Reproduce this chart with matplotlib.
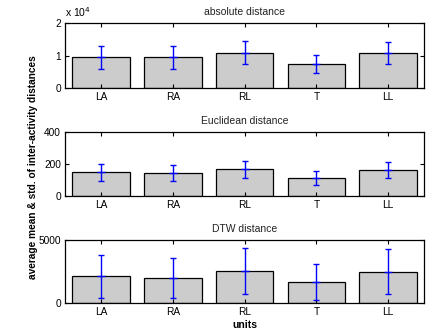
import numpy as np
import matplotlib.pyplot as plt

plt.rcParams['font.family'] = ['Liberation Sans', 'DejaVu Sans']

units = ['LA', 'RA', 'RL', 'T', 'LL']

# absolute distance
abs_mean = [9500, 9450, 10900, 7400, 10750]
abs_std = [3600, 3550, 3500, 2800, 3450]
# Euclidean distance
euc_mean = [148, 143, 167, 113, 163]
euc_std = [52, 48, 52, 44, 51]
# DTW distance
dtw_mean = [2100, 1980, 2540, 1680, 2480]
dtw_std = [1680, 1590, 1800, 1420, 1770]

panels = [
    ('absolute distance', np.array(abs_mean) / 1e4, np.array(abs_std) / 1e4, 2, [0, 1, 2]),
    ('Euclidean distance', np.array(euc_mean), np.array(euc_std), 400, [0, 200, 400]),
    ('DTW distance', np.array(dtw_mean), np.array(dtw_std), 5000, [0, 5000]),
]
boxes = [[0.151, 0.734, 0.833, 0.196],
         [0.151, 0.408, 0.833, 0.193],
         [0.151, 0.085, 0.833, 0.190]]

fig = plt.figure(figsize=(4.31, 3.31), dpi=100)
x = np.arange(1, 6)
for (title, m, s, top, yt), box in zip(panels, boxes):
    ax = fig.add_axes(box)
    ax.bar(x, m, width=0.8, color='#cccccc', edgecolor='black', linewidth=0.9)
    ax.errorbar(x, m, yerr=s, fmt='_', color='blue', ecolor='blue',
                markersize=6, elinewidth=1, capsize=2.5, capthick=1)
    ax.set_xlim(0.5, 5.5)
    ax.set_ylim(0, top)
    ax.set_xticks(x)
    ax.set_xticklabels(units)
    ax.set_yticks(yt)
    ax.tick_params(direction='in', top=True, right=True, labelsize=7.3,
                   length=3, width=0.8, pad=3)
    for sp in ax.spines.values():
        sp.set_linewidth(0.9)
    ax.set_title(title, fontsize=7.5, pad=6, color='#222222')

fig.text(0.151, 0.949, r'x 10$^4$', fontsize=7.5, ha='left', va='baseline')
fig.text(0.077, 0.495, 'average mean & std. of inter-activity distances',
         rotation=90, fontsize=7.3, fontweight='bold', ha='center', va='center')
fig.text(0.567, 0.003, 'units', fontsize=7.5, fontweight='bold', ha='center', va='bottom')

fig.savefig('out.png', dpi=100)
